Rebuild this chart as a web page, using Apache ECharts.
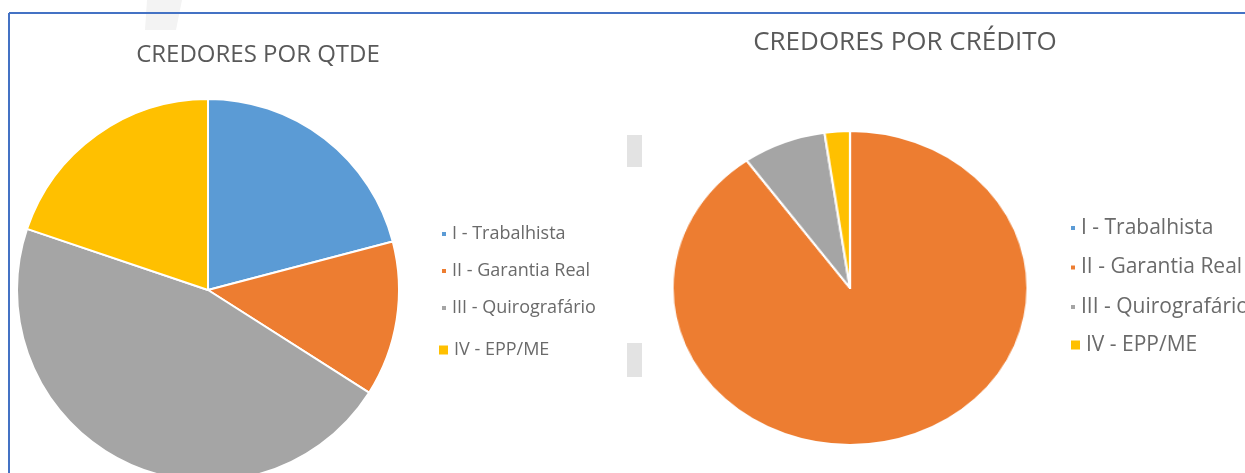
<!DOCTYPE html>
<html>
<head>
<meta charset="utf-8">
<script src="https://cdn.jsdelivr.net/npm/echarts@6/dist/echarts.min.js"></script>
<style>
  html, body { margin: 0; padding: 0; background: #fff; }
  #main { position: absolute; left: 0; top: 0; width: 1245px; height: 473px; }
  /* the credit pie is drawn a bit wider than tall in the picture */
  #right { position: absolute; left: 650px; top: 88px; width: 400px; height: 400px; transform: scaleX(1.1306); transform-origin: 50% 50%; }
</style>
</head>
<body>
<div id="main"></div>
<div id="right"></div>
<script>
var categories = ['I - Trabalhista', 'II - Garantia Real', 'III - Quirografário', 'IV - EPP/ME']
var qtdeValues = [20.9, 13.1, 46.1, 19.8]
var creditoValues = [0, 90.1, 7.6, 2.3]
var titles = ['CREDORES POR QTDE', 'CREDORES POR CRÉDITO']

var palette = ['#5B9BD5', '#ED7D31', '#A5A5A5', '#FFC000']
var font = '"Open Sans", Lato, sans-serif'
var textGray = '#595959'

function pieData(values) {
    return categories.map(function (c, i) {
        return { name: c, value: values[i], itemStyle: { color: palette[i] } }
    })
}

function pieSeries(values, center, radius) {
    return {
        type: 'pie',
        center: center,
        radius: radius,
        startAngle: 90,
        clockwise: true,
        label: { show: false },
        labelLine: { show: false },
        emphasis: { disabled: true },
        itemStyle: { borderColor: '#fff', borderWidth: 2 },
        data: pieData(values)
    }
}

function legend(left, top, names, size, fontSize, gap) {
    return {
        orient: 'vertical',
        left: left,
        top: top,
        padding: 0,
        data: names,
        icon: 'rect',
        itemWidth: size,
        itemHeight: size,
        itemGap: gap,
        selectedMode: false,
        textStyle: { fontFamily: font, fontSize: fontSize, color: '#6a6a6a', lineHeight: 22 }
    }
}

var mainChart = echarts.init(document.getElementById('main'))
mainChart.setOption({
    animation: false,
    legend: [
        legend(440, 223, categories.slice(0, 3), 6, 18, 15),
        legend(437, 339, categories.slice(3), 11, 18, 15),
        legend(1069, 217, categories.slice(0, 3), 6, 21, 17.5),
        legend(1069, 334, categories.slice(3), 11, 21, 17.5)
    ],
    graphic: [
        // faint page shadow above the frame
        { type: 'polygon', shape: { points: [[147, 0], [182, 0], [176, 30], [145, 30]] }, style: { fill: '#f3f3f3' }, z: 0 },
        { type: 'line', shape: { x1: 9, y1: 13, x2: 1245, y2: 13 }, style: { stroke: '#4472C4', lineWidth: 2 }, z: 1 },
        { type: 'line', shape: { x1: 9, y1: 13, x2: 9, y2: 473 }, style: { stroke: '#4472C4', lineWidth: 2 }, z: 1 },
        { type: 'rect', shape: { x: 627, y: 135, width: 15, height: 32 }, style: { fill: '#e3e3e3' } },
        { type: 'rect', shape: { x: 627, y: 343, width: 15, height: 34 }, style: { fill: '#e3e3e3' } },
        { type: 'text', x: 258, y: 55, style: { text: titles[0], font: '24px ' + font, fill: textGray, textAlign: 'center', textVerticalAlign: 'middle' } },
        { type: 'text', x: 905, y: 43, style: { text: titles[1], font: '26px ' + font, fill: textGray, textAlign: 'center', textVerticalAlign: 'middle' } }
    ],
    series: [pieSeries(qtdeValues, [208, 290], 191)]
})

var rightChart = echarts.init(document.getElementById('right'))
rightChart.setOption({
    animation: false,
    series: [pieSeries(creditoValues, ['50%', '50%'], 157)]
})
</script>
</body>
</html>
